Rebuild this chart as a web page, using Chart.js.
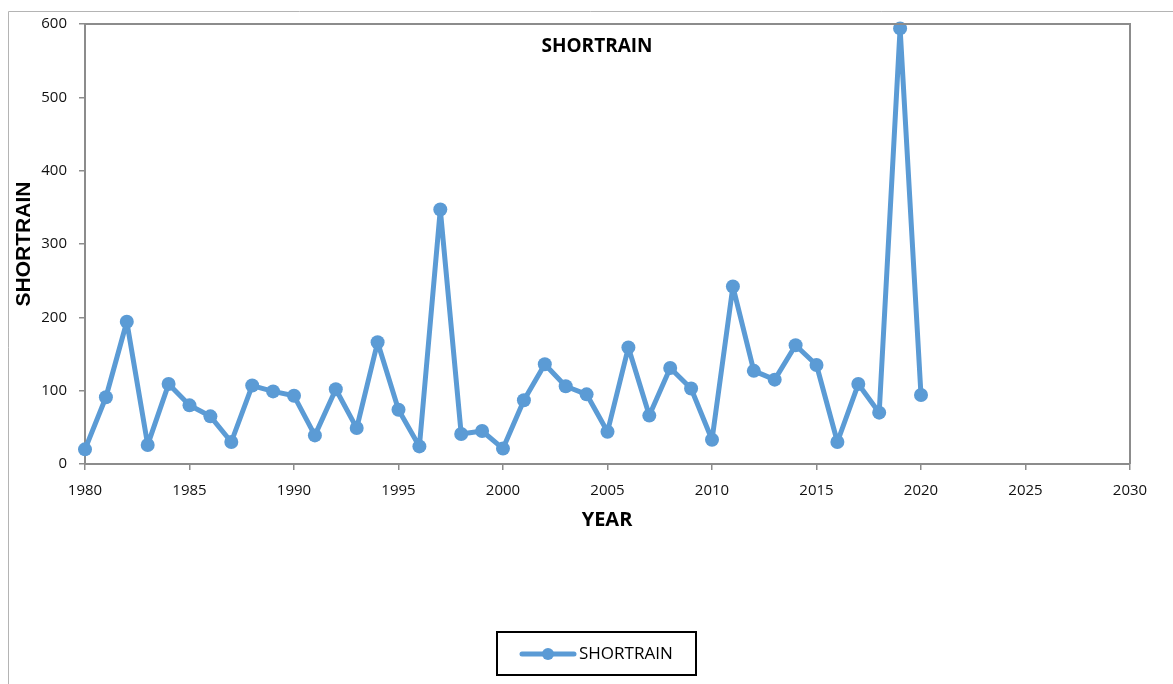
<!DOCTYPE html>
<html>
<head>
<meta charset="utf-8">
<title>SHORTRAIN</title>
<script src="https://cdn.jsdelivr.net/npm/chart.js@4.4.1/dist/chart.umd.min.js"></script>
<style>
    html, body { margin: 0; padding: 0; background: #fff; }
    #wrap { width: 1173px; height: 684px; position: relative; }
</style>
</head>
<body>
<div id="wrap"><canvas id="rainChart" width="1173" height="684"></canvas></div>
<script>
// 年份与短雨季降雨量
const years = [1980, 1981, 1982, 1983, 1984, 1985, 1986, 1987, 1988, 1989,
               1990, 1991, 1992, 1993, 1994, 1995, 1996, 1997, 1998, 1999,
               2000, 2001, 2002, 2003, 2004, 2005, 2006, 2007, 2008, 2009,
               2010, 2011, 2012, 2013, 2014, 2015, 2016, 2017, 2018, 2019, 2020];
const shortRain = [20, 91, 194, 26, 109, 80, 65, 30, 107, 99,
                   93, 39, 102, 49, 166, 74, 24, 347, 41, 45,
                   21, 87, 136, 106, 95, 44, 159, 66, 131, 103,
                   33, 242, 127, 115, 162, 135, 30, 109, 70, 594, 94];

// 坐标轴刻度
const xTicks = { min: 1980, max: 2030, step: 5 };
const yTicks = { min: 0, max: 600, step: 100 };

const seriesName = 'SHORTRAIN';
const lineColor = '#5b9bd5';
const axisColor = '#8c8c8c';
const tickFont = { family: '"Open Sans", "DejaVu Sans", sans-serif', size: 15 };

// 外框、绘图区上/右边框、标题和图例
const framePlugin = {
    id: 'frame',
    beforeDraw(chart) {
        const ctx = chart.ctx;
        ctx.save();
        ctx.strokeStyle = '#b4b4b4';
        ctx.lineWidth = 1;
        ctx.beginPath();
        ctx.moveTo(8.5, chart.height);
        ctx.lineTo(8.5, 11.5);
        ctx.lineTo(chart.width, 11.5);
        ctx.stroke();
        ctx.restore();
    },
    afterDraw(chart) {
        const ctx = chart.ctx;
        const a = chart.chartArea;
        ctx.save();
        ctx.strokeStyle = axisColor;
        ctx.lineWidth = 2;
        ctx.beginPath();
        ctx.moveTo(a.left, a.top);
        ctx.lineTo(a.right, a.top);
        ctx.lineTo(a.right, a.bottom);
        ctx.stroke();

        // 图内标题
        ctx.fillStyle = '#000';
        ctx.textAlign = 'center';
        ctx.textBaseline = 'middle';
        ctx.font = 'bold 19px "Open Sans", sans-serif';
        ctx.fillText(seriesName, 597, 47);

        // 坐标轴标题
        ctx.font = 'bold 20px "Open Sans", sans-serif';
        ctx.fillText('YEAR', 607, 520);
        ctx.save();
        ctx.translate(24, 244);
        ctx.rotate(-Math.PI / 2);
        ctx.font = 'bold 21px "Liberation Sans", Arial, sans-serif';
        ctx.fillText(seriesName, 0, 0);
        ctx.restore();

        // 图例
        ctx.strokeStyle = '#000';
        ctx.lineWidth = 2;
        ctx.strokeRect(497, 632, 199, 43);
        ctx.strokeStyle = lineColor;
        ctx.lineWidth = 5;
        ctx.lineCap = 'round';
        ctx.beginPath();
        ctx.moveTo(522, 654);
        ctx.lineTo(574, 654);
        ctx.stroke();
        ctx.fillStyle = lineColor;
        ctx.beginPath();
        ctx.arc(548, 654, 6, 0, Math.PI * 2);
        ctx.fill();
        ctx.fillStyle = '#000';
        ctx.textAlign = 'left';
        ctx.font = '17px "Open Sans", sans-serif';
        ctx.fillText(seriesName, 579, 654);
        ctx.restore();
    }
};

const ctx = document.getElementById('rainChart').getContext('2d');
const chart = new Chart(ctx, {
    type: 'line',
    data: {
        datasets: [{
            label: seriesName,
            data: years.map((y, i) => ({ x: y, y: shortRain[i] })),
            borderColor: lineColor,
            backgroundColor: lineColor,
            borderWidth: 5,
            borderJoinStyle: 'round',
            borderCapStyle: 'round',
            pointRadius: 7,
            pointBorderWidth: 0,
            pointBackgroundColor: lineColor,
            tension: 0,
            clip: false
        }]
    },
    options: {
        responsive: false,
        animation: false,
        layout: { padding: { left: 0, top: 24, right: 43, bottom: 0 } },
        plugins: {
            legend: { display: false },
            title: { display: false },
            tooltip: { enabled: false }
        },
        scales: {
            x: {
                type: 'linear',
                min: xTicks.min,
                max: xTicks.max,
                afterFit(scale) { scale.height = 684 - 464; },
                ticks: {
                    stepSize: xTicks.step,
                    color: '#111',
                    font: tickFont,
                    padding: 12,
                    maxRotation: 0,
                    callback: v => String(v)
                },
                grid: { drawOnChartArea: false, drawTicks: true, tickLength: 6, color: axisColor, lineWidth: 1.5 },
                border: { display: true, color: axisColor, width: 2 }
            },
            y: {
                min: yTicks.min,
                max: yTicks.max,
                afterFit(scale) { scale.width = 85; },
                ticks: {
                    stepSize: yTicks.step,
                    color: '#111',
                    font: tickFont,
                    padding: 12
                },
                grid: { drawOnChartArea: false, drawTicks: true, tickLength: 6, color: axisColor, lineWidth: 1.5 },
                border: { display: true, color: axisColor, width: 2 }
            }
        }
    },
    plugins: [framePlugin]
});
</script>
</body>
</html>
